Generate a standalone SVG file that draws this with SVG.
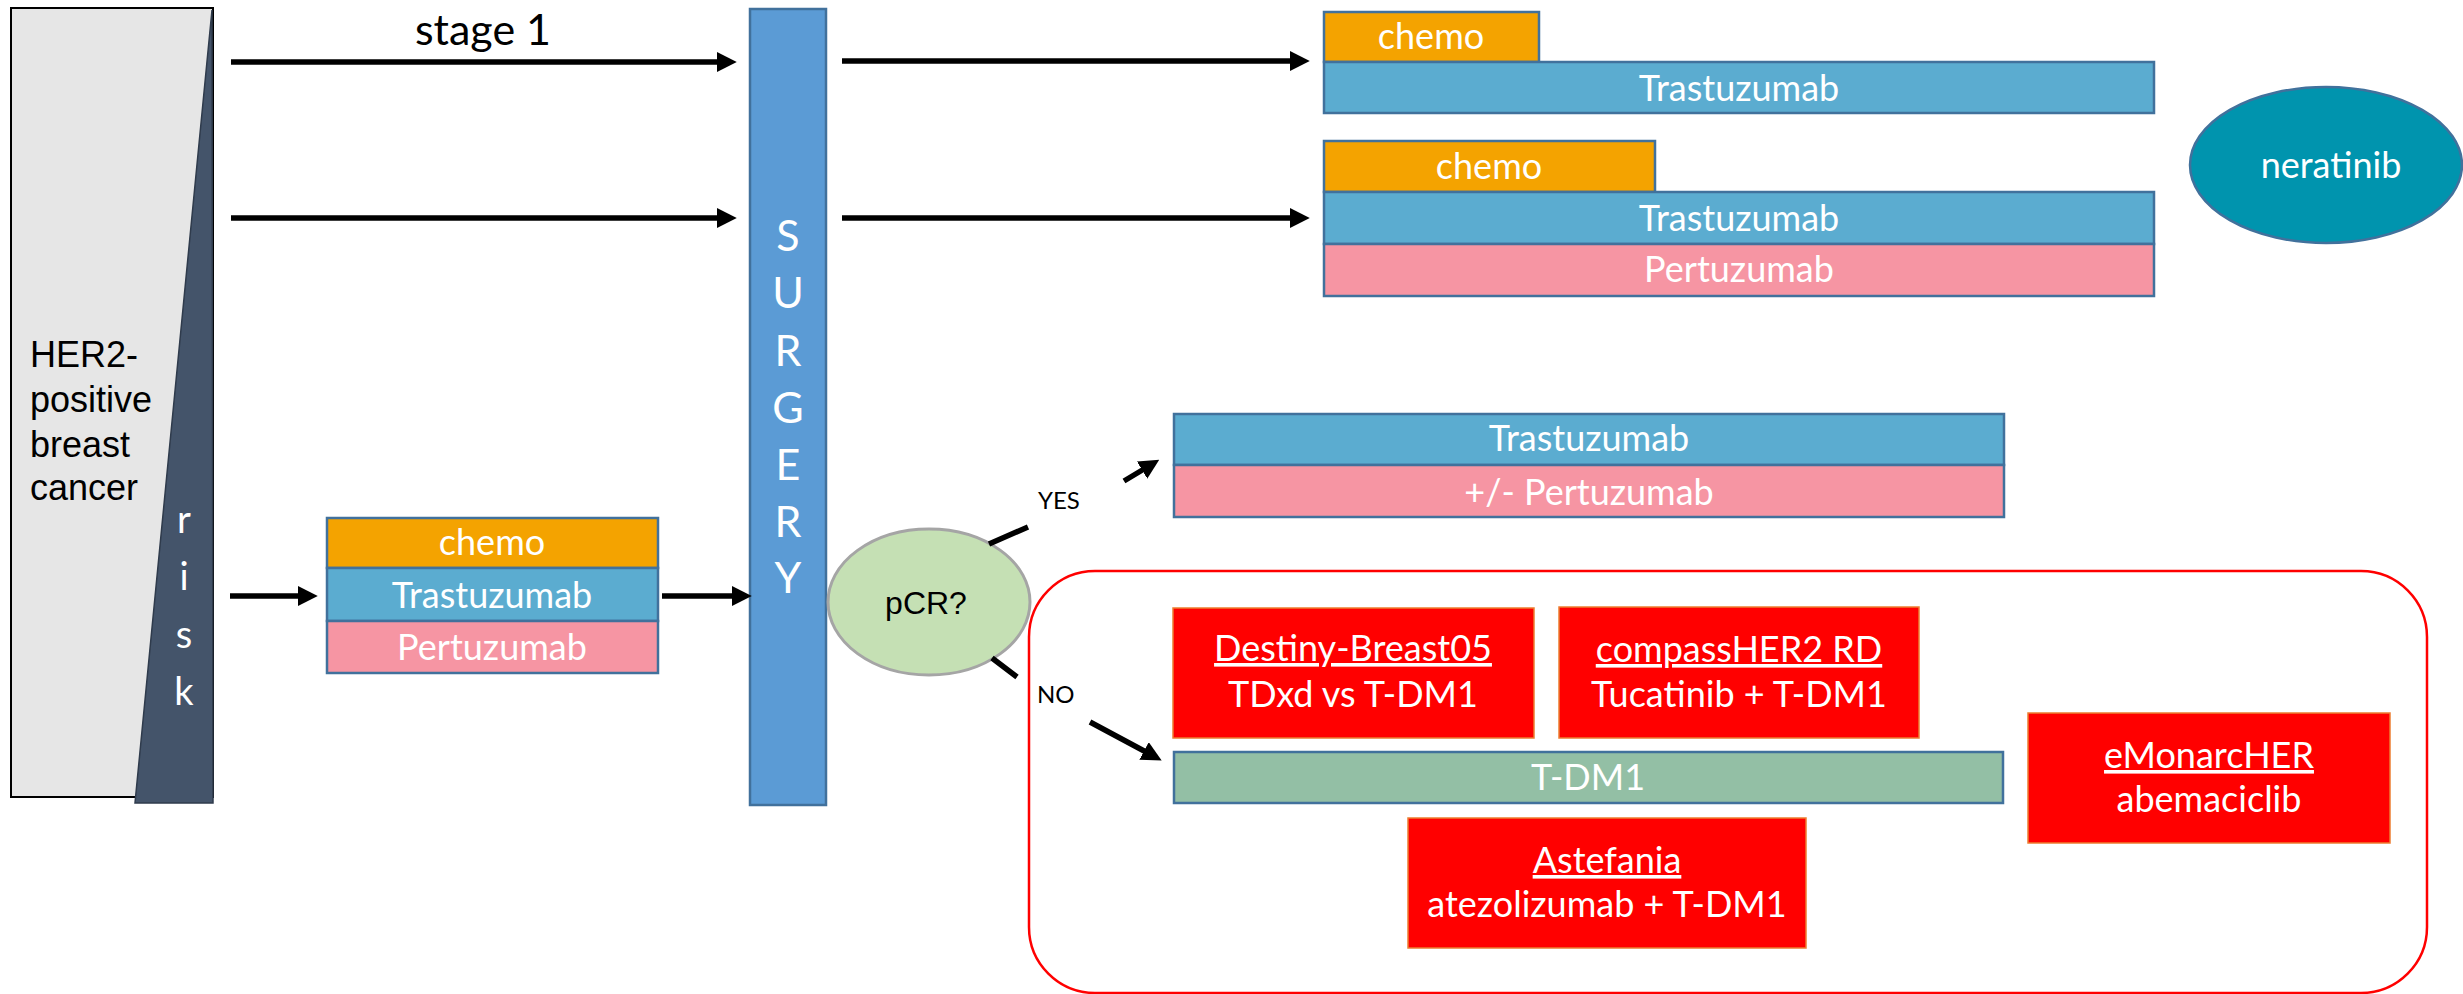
<svg xmlns="http://www.w3.org/2000/svg" width="2463" height="994" viewBox="0 0 2463 994">
<defs>
<style>
.t{font-family:Lato,"Open Sans","Liberation Sans",sans-serif;fill:#ffffff;text-anchor:middle}
.bar{stroke:#41719c;stroke-width:2.5}
.chemo{fill:#f4a300}
.tras{fill:#5bacd0}
.pert{fill:#f695a3}
.red{fill:#ff0000;stroke:#ed7d31;stroke-width:1.5}
.f36{font-size:36px}
.u{text-decoration:underline}
.conn{stroke:#000000;stroke-width:5.5;fill:none}
.lbl{font-family:Lato,"Open Sans","Liberation Sans",sans-serif;fill:#000000;font-size:24px}
</style>
<marker id="ah" markerUnits="userSpaceOnUse" markerWidth="20" markerHeight="20" refX="2" refY="9" orient="auto" viewBox="0 0 18 18">
<path d="M0,0 L18,9 L0,18 z" fill="#000000"/>
</marker>
</defs>
<rect width="2463" height="994" fill="#ffffff"/>

<g id="her2">
<rect x="11" y="8" width="202" height="789" fill="#e6e6e6" stroke="#000000" stroke-width="2"/>
<polygon points="212,10 213,803 135,803" fill="#44546a" stroke="#2f3b4c" stroke-width="1.5"/>
<text font-family="'Liberation Sans',Arial,sans-serif" font-size="36" fill="#000000">
<tspan x="30" y="367">HER2-</tspan><tspan x="30" y="412">positive</tspan><tspan x="30" y="457">breast</tspan><tspan x="30" y="500">cancer</tspan>
</text>
<text class="t" font-size="38"><tspan x="184" y="533">r</tspan><tspan x="184" y="590">i</tspan><tspan x="184" y="648">s</tspan><tspan x="184" y="705">k</tspan></text>
</g>

<g id="stage1-label">
<text x="483" y="45" font-family="Lato,'Open Sans',sans-serif" font-size="43" fill="#000000" text-anchor="middle">stage 1</text>
</g>

<g id="surgery">
<rect x="750" y="9" width="76" height="796" fill="#5b9bd5" stroke="#41719c" stroke-width="2.5"/>
<text class="t" font-size="43"><tspan x="788" y="251">S</tspan><tspan x="788" y="308">U</tspan><tspan x="788" y="366">R</tspan><tspan x="788" y="423">G</tspan><tspan x="788" y="480">E</tspan><tspan x="788" y="537">R</tspan><tspan x="788" y="593">Y</tspan></text>
</g>

<g id="neoadj">
<rect class="bar chemo" x="327" y="518" width="331" height="50"/>
<rect class="bar tras" x="327" y="568" width="331" height="53"/>
<rect class="bar pert" x="327" y="621" width="331" height="52"/>
<text class="t f36" x="492" y="555">chemo</text>
<text class="t f36" x="492" y="608">Trastuzumab</text>
<text class="t f36" x="492" y="660">Pertuzumab</text>
</g>

<g id="row1">
<rect class="bar chemo" x="1324" y="12" width="215" height="50"/>
<rect class="bar tras" x="1324" y="62" width="830" height="51"/>
<text class="t f36" x="1431" y="49">chemo</text>
<text class="t f36" x="1739" y="101">Trastuzumab</text>
</g>

<g id="row2">
<rect class="bar chemo" x="1324" y="141" width="331" height="51"/>
<rect class="bar tras" x="1324" y="192" width="830" height="52"/>
<rect class="bar pert" x="1324" y="244" width="830" height="52"/>
<text class="t f36" x="1489" y="179">chemo</text>
<text class="t f36" x="1739" y="231">Trastuzumab</text>
<text class="t f36" x="1739" y="282">Pertuzumab</text>
</g>

<g id="neratinib">
<ellipse cx="2326" cy="165" rx="136" ry="78" fill="#0094ae" stroke="#41719c" stroke-width="2.5"/>
<text class="t f36" x="2331" y="178">neratinib</text>
</g>

<g id="pcr">
<ellipse cx="929" cy="602" rx="101" ry="73" fill="#c5e0b4" stroke="#a5a5a5" stroke-width="3"/>
<text x="926" y="614" font-family="'Liberation Sans',Arial,sans-serif" font-size="32" fill="#000000" text-anchor="middle">pCR?</text>
</g>

<g id="yes-branch">
<rect class="bar tras" x="1174" y="414" width="830" height="51"/>
<rect class="bar pert" x="1174" y="465" width="830" height="52"/>
<text class="t f36" x="1589" y="451">Trastuzumab</text>
<text class="t f36" x="1589" y="505">+/- Pertuzumab</text>
</g>

<g id="no-branch">
<rect x="1029" y="571" width="1398" height="422" rx="66" ry="66" fill="none" stroke="#ff0000" stroke-width="2.5"/>
<rect class="red" x="1173" y="608" width="361" height="130"/>
<text class="t f36"><tspan class="u" x="1353" y="661">Destiny-Breast05</tspan><tspan x="1353" y="707">TDxd vs T-DM1</tspan></text>
<rect class="red" x="1559" y="607" width="360" height="131"/>
<text class="t f36"><tspan class="u" x="1739" y="662">compassHER2 RD</tspan><tspan x="1739" y="707">Tucatinib + T-DM1</tspan></text>
<rect x="1174" y="752" width="829" height="51" fill="#93bfa5" stroke="#41719c" stroke-width="2.5"/>
<text class="t f36" x="1588" y="790">T-DM1</text>
<rect class="red" x="1408" y="818" width="398" height="130"/>
<text class="t f36"><tspan class="u" x="1607" y="873">Astefania</tspan><tspan x="1607" y="917">atezolizumab + T-DM1</tspan></text>
<rect class="red" x="2028" y="713" width="362" height="130"/>
<text class="t f36"><tspan class="u" x="2209" y="768">eMonarcHER</tspan><tspan x="2209" y="812">abemaciclib</tspan></text>
</g>

<g id="connectors">
<line class="conn" x1="231" y1="62" x2="719" y2="62" marker-end="url(#ah)"/>
<line class="conn" x1="231" y1="218" x2="719" y2="218" marker-end="url(#ah)"/>
<line class="conn" x1="842" y1="61" x2="1292" y2="61" marker-end="url(#ah)"/>
<line class="conn" x1="842" y1="218" x2="1292" y2="218" marker-end="url(#ah)"/>
<line class="conn" x1="230" y1="596" x2="300" y2="596" marker-end="url(#ah)"/>
<line class="conn" x1="662" y1="596" x2="734" y2="596" marker-end="url(#ah)"/>
<path class="conn" d="M989,544 L1028,527 M1124,481 L1144,469" marker-end="url(#ah)"/>
<path class="conn" d="M992,658 L1017,677 M1090,722 L1146,752" marker-end="url(#ah)"/>
<text class="lbl" x="1038" y="509">YES</text>
<text class="lbl" x="1037" y="703">NO</text>
</g>
</svg>
